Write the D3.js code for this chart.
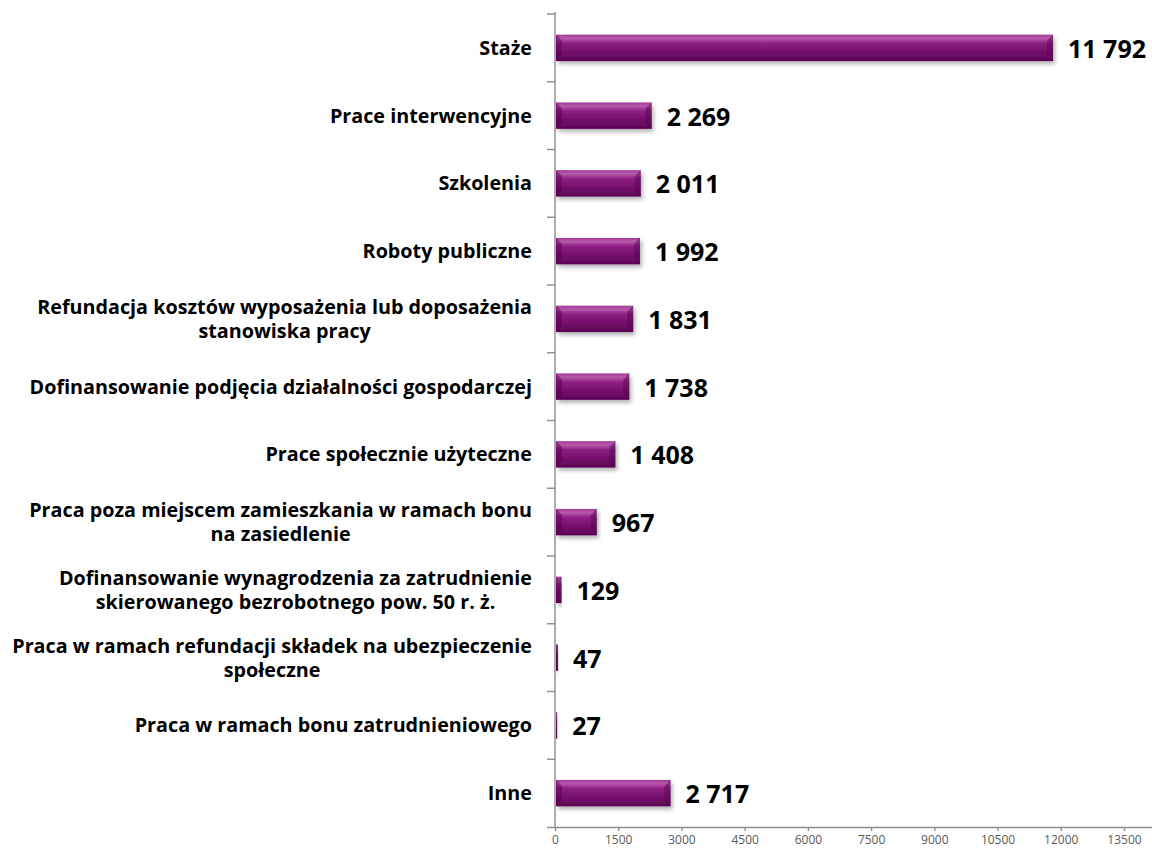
<!DOCTYPE html>
<html><head><meta charset="utf-8">
<script src="https://cdn.jsdelivr.net/npm/d3@7"></script>
<style>body{margin:0;background:#fff}svg{display:block}</style>
</head><body>
<svg id="chart" width="1152" height="849"></svg>
<script>
const categories = [
  ["Staże"],
  ["Prace interwencyjne"],
  ["Szkolenia"],
  ["Roboty publiczne"],
  ["Refundacja kosztów wyposażenia lub doposażenia", "stanowiska pracy"],
  ["Dofinansowanie podjęcia działalności gospodarczej"],
  ["Prace społecznie użyteczne"],
  ["Praca poza miejscem zamieszkania w ramach bonu", "na zasiedlenie"],
  ["Dofinansowanie wynagrodzenia za zatrudnienie", "skierowanego bezrobotnego pow. 50 r. ż."],
  ["Praca w ramach refundacji składek na ubezpieczenie", "społeczne"],
  ["Praca w ramach bonu zatrudnieniowego"],
  ["Inne"]
];
const values = [11792, 2269, 2011, 1992, 1831, 1738, 1408, 967, 129, 47, 27, 2717];
const tickValues = [0, 1500, 3000, 4500, 6000, 7500, 9000, 10500, 12000, 13500];

(function () {
const svg = d3.select("#chart");
const mL = 555, mR = 1124, mT = 14, mB = 827;
const FONT = "'Open Sans', Carlito, Calibri, sans-serif";

const x = d3.scaleLinear().domain([0, 13500]).range([mL, mR]);
const y = d3.scaleBand().domain(d3.range(categories.length)).range([mT, mB]).paddingInner(0.61).paddingOuter(0.305);

const defs = svg.append("defs");
const g = defs.append("linearGradient").attr("id", "barGrad").attr("x1", 0).attr("y1", 0).attr("x2", 0).attr("y2", 1);
g.append("stop").attr("offset", "0%").attr("stop-color", "#a03a96");
g.append("stop").attr("offset", "14%").attr("stop-color", "#b858ac");
g.append("stop").attr("offset", "32%").attr("stop-color", "#8e2184");
g.append("stop").attr("offset", "70%").attr("stop-color", "#720b69");
g.append("stop").attr("offset", "100%").attr("stop-color", "#5c0454");
const f = defs.append("filter").attr("id", "shadow").attr("x", "-5%").attr("y", "-30%").attr("width", "115%").attr("height", "190%");
f.append("feDropShadow").attr("dx", 2).attr("dy", 3).attr("stdDeviation", 2).attr("flood-color", "#000").attr("flood-opacity", 0.3);

const bars = svg.append("g");
bars.selectAll("rect").data(values).join("rect")
  .attr("x", x(0) + 1)
  .attr("y", (d, i) => y(i))
  .attr("width", d => Math.max(1, x(d) - x(0)))
  .attr("height", y.bandwidth())
  .attr("fill", "url(#barGrad)")
  .attr("filter", "url(#shadow)");
bars.selectAll("path.bevel").data(values).join("path")
  .attr("class", "bevel")
  .attr("d", (d, i) => {
    const w = x(d) - x(0), h = y.bandwidth(), b = Math.min(6, w / 2), x0 = x(0) + 1, y0 = y(i);
    return `M${x0 + w},${y0} L${x0 + w - b},${y0 + b} L${x0 + w - b},${y0 + h - b} L${x0 + w},${y0 + h} Z`;
  })
  .attr("fill", "#5a0452").attr("opacity", 0.5);
bars.selectAll("path.bevelL").data(values).join("path")
  .attr("class", "bevelL")
  .attr("d", (d, i) => {
    const w = x(d) - x(0), h = y.bandwidth(), b = Math.min(6, w / 2), x0 = x(0) + 1, y0 = y(i);
    return `M${x0},${y0} L${x0 + b},${y0 + b} L${x0 + b},${y0 + h - b} L${x0},${y0 + h} Z`;
  })
  .attr("fill", "#4e0347").attr("opacity", 0.5);

const fmt = v => d3.format(",")(v).replace(/,/g, " ");
svg.append("g").selectAll("text").data(values).join("text")
  .attr("x", d => x(d) + 16)
  .attr("y", (d, i) => y(i) + y.bandwidth() / 2 + 10)
  .attr("font-family", FONT).attr("font-weight", "bold").attr("font-size", 25)
  .attr("fill", "#000")
  .text(fmt);

const yAxisG = svg.append("g");
yAxisG.append("line").attr("x1", mL).attr("x2", mL).attr("y1", mT - 2).attr("y2", mB).attr("stroke", "#8c8c8c").attr("stroke-width", 1.4);
const bounds = d3.range(categories.length).map(i => y(i) - y.step() * y.paddingInner() / 2);
yAxisG.selectAll("line.t").data(bounds).join("line").attr("class", "t")
  .attr("x1", mL - 8).attr("x2", mL).attr("y1", d => d).attr("y2", d => d)
  .attr("stroke", "#8c8c8c").attr("stroke-width", 1.4);

// fit category font so the widest line spans the reference width (x 10 .. 532)
const probe = svg.append("text").attr("font-family", FONT).attr("font-weight", "bold").attr("font-size", 20);
let maxProbe = 0;
categories.flat().forEach(l => { probe.text(l); maxProbe = Math.max(maxProbe, probe.node().getComputedTextLength()); });
probe.remove();
const catSize = 20 * 520 / maxProbe;

const labelRight = 532;
const catG = svg.append("g");
categories.forEach((lines, i) => {
  const cy = y(i) + y.bandwidth() / 2;
  const lh = 24;
  const t = catG.append("text")
    .attr("font-family", FONT).attr("font-weight", "bold").attr("font-size", catSize)
    .attr("fill", "#000");
  const tspans = lines.map(l => t.append("tspan").text(l));
  const widths = tspans.map(ts => ts.node().getComputedTextLength());
  const maxW = d3.max(widths);
  const cx = labelRight - maxW / 2;
  tspans.forEach((ts, k) => {
    ts.attr("x", cx).attr("text-anchor", "middle")
      .attr("y", cy + 7 + (k - (lines.length - 1) / 2) * lh);
  });
});

const xAxis = d3.axisBottom(x).tickValues(tickValues).tickSize(4).tickFormat(d => d);
const xg = svg.append("g").attr("transform", `translate(0,${mB})`).call(xAxis);
xg.select(".domain").attr("stroke", "#8c8c8c").attr("stroke-width", 1.4).attr("d", `M${mL - 8},0.5H${1152}`);
xg.selectAll(".tick line").attr("stroke", "#8c8c8c").attr("stroke-width", 1.4);
xg.selectAll(".tick text").attr("font-family", FONT).attr("font-size", 12).attr("fill", "#595959")
  .attr("y", 0).attr("dy", 0).attr("transform", "translate(0,17)");
})();
</script>
</body></html>
